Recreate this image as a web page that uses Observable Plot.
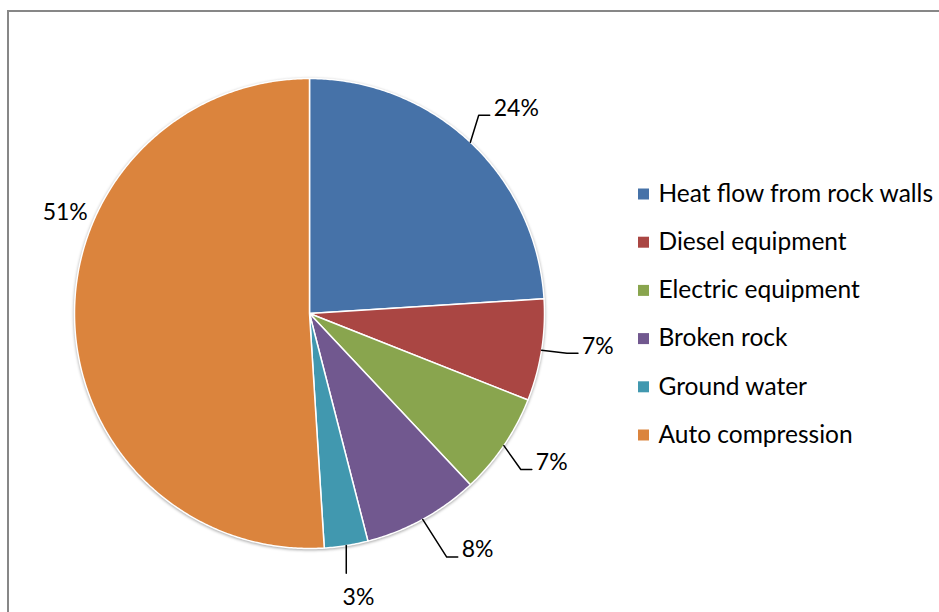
<!DOCTYPE html>
<html>
<head>
<meta charset="utf-8">
<script src="https://cdn.jsdelivr.net/npm/d3@7"></script>
<script src="https://cdn.jsdelivr.net/npm/@observablehq/plot@0.6"></script>
<style>
  html, body { margin: 0; padding: 0; background: #fff; overflow: hidden; }
  #wrap { position: relative; width: 939px; height: 612px; }
  #chart { position: absolute; left: 0; top: 0; }
  #border { position: absolute; left: 7px; top: 10px; width: 1000px; height: 700px;
            border: 2px solid #878787; box-sizing: border-box; pointer-events: none; }
  #chart svg g.slices { filter: drop-shadow(0px 1px 1.5px rgba(0,0,0,0.35)); }
</style>
</head>
<body>
<div id="wrap"><div id="chart"></div><div id="border"></div></div>
<script>
// Heat sources in the mine, share of total heat load (%)
const categories = [
  "Heat flow from rock walls",
  "Diesel equipment",
  "Electric equipment",
  "Broken rock",
  "Ground water",
  "Auto compression"
];
const shares = [24, 7, 7, 8, 3, 51];
const colors = ["#4672A8", "#AA4643", "#89A54E", "#71588F", "#4198AF", "#DB843D"];

// Label placement: rotation (degrees) from the slice's mid-angle and distance (pie radii)
const labelTurn = [2, -2.5, -2.6, -6.6, -0.8, 24.3];
const labelRadius = [1.24, 1.235, 1.21, 1.235, 1.225, 1.125];

// Pie geometry in pixels
const cx = 309, cy = 313, R = 235;
const W = 939, H = 612;
const LABEL_FONT = 23;
const LEGEND_FONT = 24.5;
const px = v => v / R;                  // pixel offset -> data units (x)
const py = v => -v / R;                 // pixel offset -> data units (y, up)

const arcs = d3.pie().sort(null).value(d => d)(shares);

// Slice outlines as closed polygons in unit coordinates (12 o'clock, clockwise)
const sliceRows = [];
arcs.forEach((a, i) => {
  sliceRows.push({cat: categories[i], x: 0, y: 0});
  const n = Math.max(2, Math.ceil((a.endAngle - a.startAngle) / (Math.PI / 360)));
  for (let k = 0; k <= n; k++) {
    const t = a.startAngle + (a.endAngle - a.startAngle) * k / n;
    sliceRows.push({cat: categories[i], x: Math.sin(t), y: Math.cos(t)});
  }
});

// Percent labels and their leader lines
const ctx = document.createElement("canvas").getContext("2d");
ctx.font = `${LABEL_FONT}px Lato`;
const labels = [];
const leaders = [];
arcs.forEach((a, i) => {
  const mid = (a.startAngle + a.endAngle) / 2;
  const th = mid + labelTurn[i] * Math.PI / 180;
  const r = labelRadius[i];
  const lx = r * Math.sin(th), ly = r * Math.cos(th);
  const text = `${shares[i]}%`;
  labels.push({text, x: lx, y: ly});
  if (r < 1.15) return;                       // close enough to the pie: no leader
  const w = ctx.measureText(text).width;
  const ex = Math.sin(mid), ey = Math.cos(mid);
  const deg = th * 180 / Math.PI;
  let pts;
  if (deg > 160 && deg < 200) {
    // label below the pie: straight drop from the slice edge
    pts = [[ex, ey], [ex, ly + py(-24)]];
  } else {
    const ax = lx + px(-w / 2 - 4), ay = ly + py(7);
    pts = [[ex, ey], [ax + px(-11), ay], [ax, ay]];
  }
  pts.forEach(([x, y]) => leaders.push({id: i, x, y}));
});

// Legend rows
const legend = categories.map((c, i) => ({
  cat: c,
  sx: px(643 - cx), tx: px(658 - cx),
  y: py(193.5 + i * 48.2 - cy)
}));

const chart = Plot.plot({
  width: W,
  height: H,
  margin: 0,
  x: {domain: [-1, 1], range: [cx - R, cx + R], axis: null},
  y: {domain: [-1, 1], range: [cy + R, cy - R], axis: null},
  color: {domain: categories, range: colors},
  style: {fontFamily: "Lato, 'Open Sans', sans-serif", background: "transparent", color: "#000"},
  marks: [
    Plot.line(sliceRows, {
      x: "x", y: "y", z: "cat", fill: "cat",
      stroke: "white", strokeWidth: 1.5, curve: "linear-closed",
      className: "slices"
    }),
    Plot.line(leaders, {x: "x", y: "y", z: "id", stroke: "#000", strokeWidth: 1.5}),
    Plot.text(labels, {
      x: "x", y: "y", text: "text", fontSize: LABEL_FONT, fill: "#000",
      textAnchor: "middle", lineAnchor: "middle"
    }),
    Plot.dot(legend, {
      x: "sx", y: "y", fill: "cat", symbol: "square",
      r: 11 / Math.sqrt(Math.PI), stroke: null
    }),
    Plot.text(legend, {
      x: "tx", y: "y", text: "cat", fontSize: LEGEND_FONT, fill: "#000",
      textAnchor: "start", lineAnchor: "middle"
    })
  ]
});

document.getElementById("chart").append(chart);
</script>
</body>
</html>
